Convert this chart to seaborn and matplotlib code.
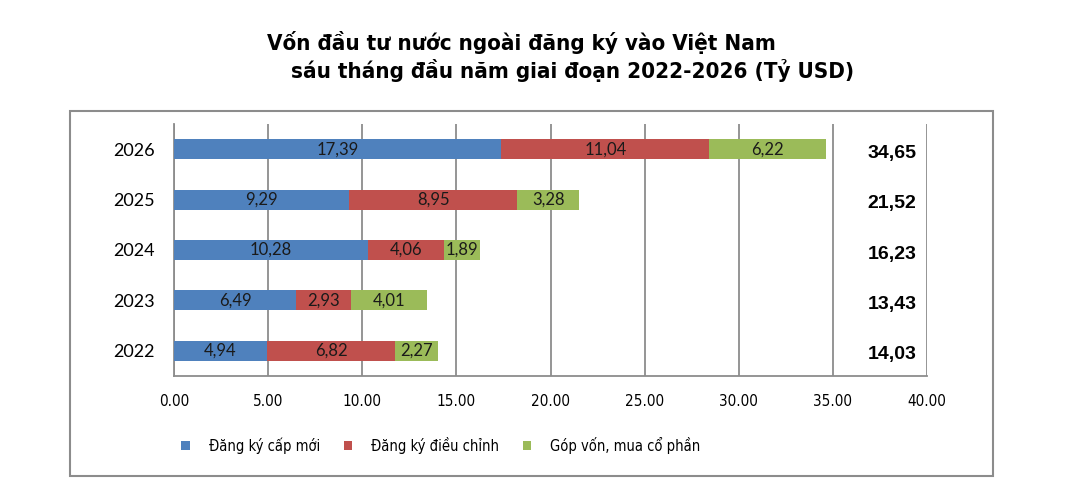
import matplotlib
matplotlib.use("Agg")
import matplotlib.pyplot as plt
import seaborn as sns
import pandas as pd
import numpy as np
from matplotlib.patches import Rectangle

years = ["2026", "2025", "2024", "2023", "2022"]
new_reg = [17.39, 9.29, 10.28, 6.49, 4.94]
adjusted = [11.04, 8.95, 4.06, 2.93, 6.82]
equity = [6.22, 3.28, 1.89, 4.01, 2.27]
series_names = ["Đăng ký cấp mới", "Đăng ký điều chỉnh", "Góp vốn, mua cổ phần"]
colors = ["#4F81BD", "#C0504D", "#9BBB59"]
xticks = [0, 5, 10, 15, 20, 25, 30, 35, 40]

def vn(v):
    return f"{v:.2f}".replace(".", ",")

sns.set_theme(style="white")
COND = ["DejaVu Sans"]
LABF = ["Lato", "DejaVu Sans"]
plt.rcParams["font.family"] = ["Liberation Sans", "DejaVu Sans"]

df = pd.DataFrame({"year": years, "a": new_reg, "b": adjusted, "c": equity})
df["ab"] = df["a"] + df["b"]
df["abc"] = df["ab"] + df["c"]

fig = plt.figure(figsize=(10.77, 5.03), dpi=100)
ax = fig.add_axes([174/1077, 1-376/503, (927-174)/1077, (376-124)/503])

kw = dict(order=years, orient="h", width=0.4, ax=ax, saturation=1, linewidth=0, zorder=3)
sns.barplot(data=df, y="year", x="abc", color=colors[2], label=series_names[2], **kw)
sns.barplot(data=df, y="year", x="ab", color=colors[1], label=series_names[1], **kw)
sns.barplot(data=df, y="year", x="a", color=colors[0], label=series_names[0], **kw)

# segment labels
for i in range(len(years)):
    lefts = [0, df["a"][i], df["ab"][i]]
    vals = [df["a"][i], df["b"][i], df["c"][i]]
    for l, v in zip(lefts, vals):
        ax.text(l + v/2, i, vn(v), ha="center", va="center", fontsize=12,
                family=LABF, color="#1a1a1a", zorder=5)
    ax.text(38.15, i + 0.08, vn(df["abc"][i]), ha="center", va="center",
            fontsize=14, fontweight="bold", family=["Liberation Sans", "DejaVu Sans"],
            color="black", zorder=5)

ax.set_xlim(0, 40)
ax.set_ylim(4.5, -0.5)
ax.set_xticks(xticks)
ax.set_xticklabels([f"{t:.2f}" for t in xticks], family=COND, stretch="condensed",
                   fontsize=11, color="black")
ax.set_yticks(range(len(years)))
ax.set_yticklabels(years, family=LABF, fontsize=13, color="black")
ax.set_yticks(np.arange(-0.5, 5.0, 1.0), minor=True)
ax.tick_params(axis="y", which="major", length=0, pad=14)
ax.tick_params(axis="y", which="minor", length=6, width=1.3, color="#8c8c8c", direction="out")
ax.tick_params(axis="x", which="major", length=6, width=1.3, color="#8c8c8c", direction="out", pad=7)
ax.set_xlabel("")
ax.set_ylabel("")
ax.grid(axis="x", color="#8c8c8c", linewidth=1.3, zorder=0)
ax.set_axisbelow(True)
for s in ["top", "right"]:
    ax.spines[s].set_visible(False)
for s in ["left", "bottom"]:
    ax.spines[s].set_color("#8c8c8c")
    ax.spines[s].set_linewidth(1.3)

handles, labels = ax.get_legend_handles_labels()
if ax.get_legend() is not None:
    ax.get_legend().remove()
order = [labels.index(n) for n in series_names]
leg = fig.legend([handles[k] for k in order], [labels[k] for k in order],
                 loc="center", bbox_to_anchor=(441/1077, 1-445/503), ncol=3,
                 frameon=False, prop={"family": COND, "stretch": "condensed", "size": 10.5},
                 handlelength=0.6, handleheight=0.6, columnspacing=1.6, handletextpad=1.3)
for t in leg.get_texts():
    t.set_color("black")

fig.patches.append(Rectangle((70/1077, 1-476/503), (993-70)/1077, (476-111)/503,
                             transform=fig.transFigure, fill=False,
                             edgecolor="#8c8c8c", linewidth=1.5))

fig.text(521/1077, 1-43/503, "Vốn đầu tư nước ngoài đăng ký vào Việt Nam",
         ha="center", va="center", fontsize=16, fontweight="bold", family=COND,
         stretch="condensed", color="black")
fig.text(573/1077, 1-70/503, "sáu tháng đầu năm giai đoạn 2022-2026 (Tỷ USD)",
         ha="center", va="center", fontsize=16, fontweight="bold", family=COND,
         stretch="condensed", color="black")

fig.savefig("out.png", dpi=100)
